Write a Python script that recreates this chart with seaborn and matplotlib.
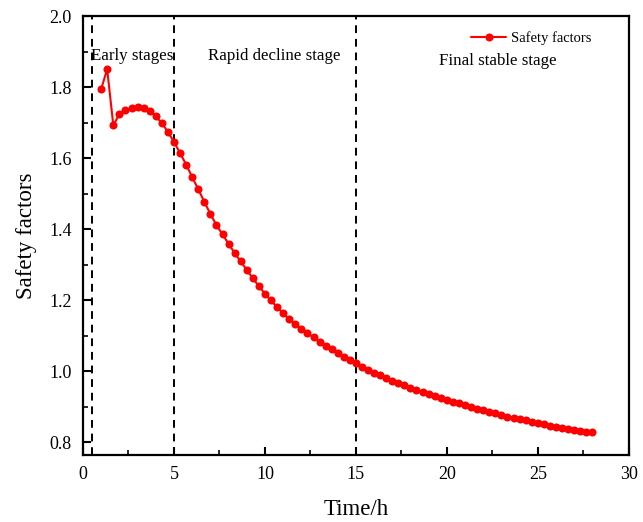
import numpy as np
import pandas as pd
import matplotlib
matplotlib.use("Agg")
import matplotlib.pyplot as plt
from matplotlib.ticker import MultipleLocator, FormatStrFormatter
import seaborn as sns

# Safety factor sampled every 1/3 hour from t = 1 h to t = 28 h
time_h = [
    1.00, 1.33, 1.67, 2.00, 2.33, 2.67, 3.00, 3.33, 3.67, 4.00,
    4.33, 4.67, 5.00, 5.33, 5.67, 6.00, 6.33, 6.67, 7.00, 7.33,
    7.67, 8.00, 8.33, 8.67, 9.00, 9.33, 9.67, 10.00, 10.33, 10.67,
    11.00, 11.33, 11.67, 12.00, 12.33, 12.67, 13.00, 13.33, 13.67, 14.00,
    14.33, 14.67, 15.00, 15.33, 15.67, 16.00, 16.33, 16.67, 17.00, 17.33,
    17.67, 18.00, 18.33, 18.67, 19.00, 19.33, 19.67, 20.00, 20.33, 20.67,
    21.00, 21.33, 21.67, 22.00, 22.33, 22.67, 23.00, 23.33, 23.67, 24.00,
    24.33, 24.67, 25.00, 25.33, 25.67, 26.00, 26.33, 26.67, 27.00, 27.33,
    27.67, 28.00,
]
safety_factor = [
    1.794, 1.851, 1.692, 1.724, 1.735, 1.740, 1.743, 1.741, 1.734, 1.718,
    1.699, 1.674, 1.646, 1.615, 1.582, 1.547, 1.513, 1.477, 1.443, 1.412,
    1.385, 1.359, 1.333, 1.309, 1.285, 1.262, 1.239, 1.218, 1.199, 1.180,
    1.163, 1.146, 1.132, 1.119, 1.107, 1.095, 1.083, 1.072, 1.061, 1.052,
    1.041, 1.032, 1.022, 1.012, 1.004, 0.995, 0.988, 0.980, 0.973, 0.966,
    0.960, 0.953, 0.946, 0.941, 0.935, 0.930, 0.924, 0.918, 0.914, 0.909,
    0.903, 0.899, 0.894, 0.889, 0.885, 0.881, 0.876, 0.872, 0.868, 0.865,
    0.861, 0.857, 0.854, 0.850, 0.846, 0.842, 0.839, 0.837, 0.834, 0.831,
    0.829, 0.827,
]

# Stage boundaries (h) and stage names
stage_bounds = [0.5, 5, 15]
stage_names = ["Early stages", "Rapid decline stage", "Final stable stage"]
stage_label_x = [2.7, 10.5, 22.8]
stage_label_y = [1.887, 1.887, 1.873]

df = pd.DataFrame({"Time/h": time_h, "Safety factors": safety_factor})

sns.set_style("ticks")
plt.rcParams["font.family"] = ["Liberation Serif", "DejaVu Serif"]
plt.rcParams["xtick.direction"] = "in"
plt.rcParams["ytick.direction"] = "in"
plt.rcParams["text.color"] = "black"
plt.rcParams["axes.labelcolor"] = "black"
plt.rcParams["xtick.color"] = "black"
plt.rcParams["ytick.color"] = "black"

fig = plt.figure(figsize=(6.43, 5.22), dpi=100)
ax = fig.add_axes([0.129, 0.128, 0.849, 0.841])

sns.lineplot(data=df, x="Time/h", y="Safety factors", ax=ax,
             color="#ff0000", marker="o", markersize=5.8, markeredgewidth=0,
             linewidth=1.5, label="Safety factors", zorder=3)

for xb in stage_bounds:
    ax.axvline(xb, color="black", linestyle=(0, (4, 3)), linewidth=1.4, zorder=1)

for name, tx, ty in zip(stage_names, stage_label_x, stage_label_y):
    ax.text(tx, ty, name, ha="center", va="center", fontsize=12.2,
            color="black", zorder=2)

ax.set_xlim(0, 30)
ax.set_ylim(0.763, 2.0)
ax.xaxis.set_major_locator(MultipleLocator(5))
ax.xaxis.set_minor_locator(MultipleLocator(2.5))
ax.yaxis.set_major_locator(MultipleLocator(0.2))
ax.yaxis.set_minor_locator(MultipleLocator(0.1))
ax.yaxis.set_major_formatter(FormatStrFormatter("%.1f"))
ax.tick_params(which="major", length=6, width=1.5, labelsize=13, pad=8)
ax.tick_params(which="minor", length=3.5, width=1.2)
ax.tick_params(top=False, right=False)

for sp in ax.spines.values():
    sp.set_linewidth(1.6)
    sp.set_color("black")

ax.set_xlabel("Time/h", fontsize=16.5, labelpad=11)
ax.set_ylabel("Safety factors", fontsize=16.5, labelpad=9)

leg = ax.legend(loc="upper right", bbox_to_anchor=(0.955, 0.995), frameon=False,
                fontsize=10.5, handlelength=2.4, handletextpad=0.3)

fig.savefig("out.png", dpi=100)
